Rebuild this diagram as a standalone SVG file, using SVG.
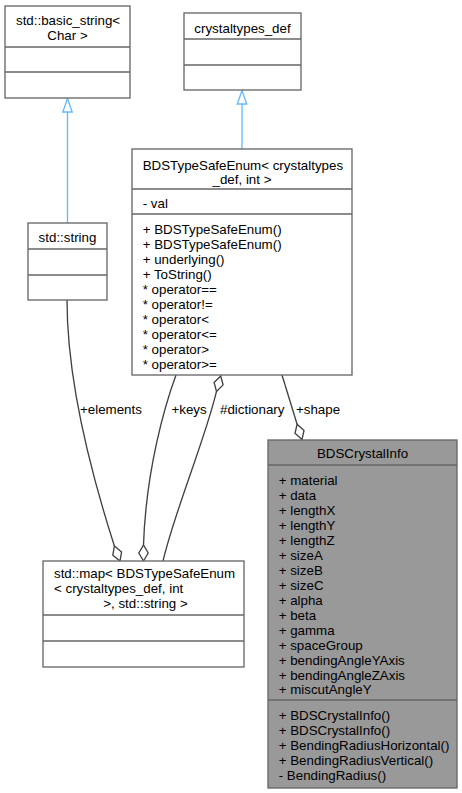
<svg xmlns="http://www.w3.org/2000/svg" width="462" height="793" viewBox="0 0 462 793">
<style>
.box{fill:#ffffff;stroke:#666666;stroke-width:1.33}
.main{fill:#999999;stroke:#666666;stroke-width:1.33}
.div{stroke:#666666;stroke-width:1.33}
.t{font-family:"Liberation Sans",Arial,Helvetica,sans-serif;font-size:13.33px;fill:#000000}
.c{text-anchor:middle}
.edge{fill:none;stroke:#404040;stroke-width:1.33}
.dia{fill:#ffffff;stroke:#404040;stroke-width:1.33}
.inh{fill:none;stroke:#63b8ff;stroke-width:1.33}
</style>
<rect width="462" height="793" fill="#ffffff"/>
<g id="connectors">
  <path class="inh" d="M67.5,223 L67.5,112"/>
  <polygon class="inh" points="67.5,98.5 72.2,112 62.8,112"/>
  <path class="inh" d="M242,149 L242,104"/>
  <polygon class="inh" points="242,90.5 246.7,104 237.3,104"/>
  <path class="edge" d="M67,300 C67,380 90,470 114.4,546"/>
  <polygon class="dia" points="120,561 121.6,551.9 114.4,546 112.8,555.2"/>
  <path class="edge" d="M176,375 C165,405 146,470 143.5,545"/>
  <polygon class="dia" points="143.5,561 148.2,553 143.5,545 138.8,553"/>
  <path class="edge" d="M216.5,391.4 C205,440 175,510 163,561"/>
  <polygon class="dia" points="220.7,376 223.1,384.9 216.5,391.4 214.1,382.5"/>
  <path class="edge" d="M282,375 L297.1,424.3"/>
  <polygon class="dia" points="302,439.5 304,430.5 297.1,424.3 295,433.3"/>
  <text class="t" x="80" y="413.7">+elements</text>
  <text class="t" x="171.5" y="413.7">+keys</text>
  <text class="t" x="220" y="413.7">#dictionary</text>
  <text class="t" x="296" y="413.7">+shape</text>
</g>
<g id="node_basic_string">
  <rect class="box" x="5" y="6" width="125" height="92"/>
  <line class="div" x1="5" y1="47" x2="130" y2="47"/>
  <line class="div" x1="5" y1="72" x2="130" y2="72"/>
  <text class="t" x="16" y="24.7">std::basic_string&lt;</text>
  <text class="t c" x="67.5" y="39.7">Char &gt;</text>
</g>
<g id="node_crystaltypes_def">
  <rect class="box" x="184" y="13" width="117" height="77"/>
  <line class="div" x1="184" y1="39" x2="301" y2="39"/>
  <line class="div" x1="184" y1="65" x2="301" y2="65"/>
  <text class="t c" x="242.5" y="32.7">crystaltypes_def</text>
</g>
<g id="node_BDSTypeSafeEnum">
  <rect class="box" x="132" y="149" width="220" height="226"/>
  <line class="div" x1="132" y1="189" x2="352" y2="189"/>
  <line class="div" x1="132" y1="214" x2="352" y2="214"/>
  <text class="t" x="142.7" y="169.5">BDSTypeSafeEnum&lt; crystaltypes</text>
  <text class="t c" x="242" y="184">_def, int &gt;</text>
  <text class="t" x="142.7" y="207.7">- val</text>
  <text class="t" x="142.7" y="233.7">+ BDSTypeSafeEnum()</text>
  <text class="t" x="142.7" y="248.7">+ BDSTypeSafeEnum()</text>
  <text class="t" x="142.7" y="263.7">+ underlying()</text>
  <text class="t" x="142.7" y="278.7">+ ToString()</text>
  <text class="t" x="142.7" y="293.7">* operator==</text>
  <text class="t" x="142.7" y="308.7">* operator!=</text>
  <text class="t" x="142.7" y="323.7">* operator&lt;</text>
  <text class="t" x="142.7" y="338.7">* operator&lt;=</text>
  <text class="t" x="142.7" y="353.7">* operator&gt;</text>
  <text class="t" x="142.7" y="368.7">* operator&gt;=</text>
</g>
<g id="node_std_string">
  <rect class="box" x="28" y="223" width="79" height="77"/>
  <line class="div" x1="28" y1="249" x2="107" y2="249"/>
  <line class="div" x1="28" y1="275" x2="107" y2="275"/>
  <text class="t c" x="67.5" y="241.7">std::string</text>
</g>
<g id="node_std_map">
  <rect class="box" x="43" y="561" width="201" height="106"/>
  <line class="div" x1="43" y1="615" x2="244" y2="615"/>
  <line class="div" x1="43" y1="641" x2="244" y2="641"/>
  <text class="t" x="54" y="577.7">std::map&lt; BDSTypeSafeEnum</text>
  <text class="t" x="54" y="592.7">&lt; crystaltypes_def, int</text>
  <text class="t c" x="145.5" y="607.7">&gt;, std::string &gt;</text>
</g>
<g id="node_BDSCrystalInfo">
  <rect class="main" x="268" y="440" width="189" height="348"/>
  <line class="div" x1="268" y1="465" x2="457" y2="465"/>
  <line class="div" x1="268" y1="700" x2="457" y2="700"/>
  <text class="t c" x="362.5" y="457.7">BDSCrystalInfo</text>
  <text class="t" x="278.7" y="484.7">+ material</text>
  <text class="t" x="278.7" y="499.7">+ data</text>
  <text class="t" x="278.7" y="514.7">+ lengthX</text>
  <text class="t" x="278.7" y="529.7">+ lengthY</text>
  <text class="t" x="278.7" y="544.7">+ lengthZ</text>
  <text class="t" x="278.7" y="559.7">+ sizeA</text>
  <text class="t" x="278.7" y="574.7">+ sizeB</text>
  <text class="t" x="278.7" y="589.7">+ sizeC</text>
  <text class="t" x="278.7" y="604.7">+ alpha</text>
  <text class="t" x="278.7" y="619.7">+ beta</text>
  <text class="t" x="278.7" y="634.7">+ gamma</text>
  <text class="t" x="278.7" y="649.7">+ spaceGroup</text>
  <text class="t" x="278.7" y="664.7">+ bendingAngleYAxis</text>
  <text class="t" x="278.7" y="679.7">+ bendingAngleZAxis</text>
  <text class="t" x="278.7" y="694.2">+ miscutAngleY</text>
  <text class="t" x="278.7" y="719.7">+ BDSCrystalInfo()</text>
  <text class="t" x="278.7" y="734.7">+ BDSCrystalInfo()</text>
  <text class="t" x="278.7" y="749.7">+ BendingRadiusHorizontal()</text>
  <text class="t" x="278.7" y="764.7">+ BendingRadiusVertical()</text>
  <text class="t" x="278.7" y="779.7">- BendingRadius()</text>
</g>
</svg>
